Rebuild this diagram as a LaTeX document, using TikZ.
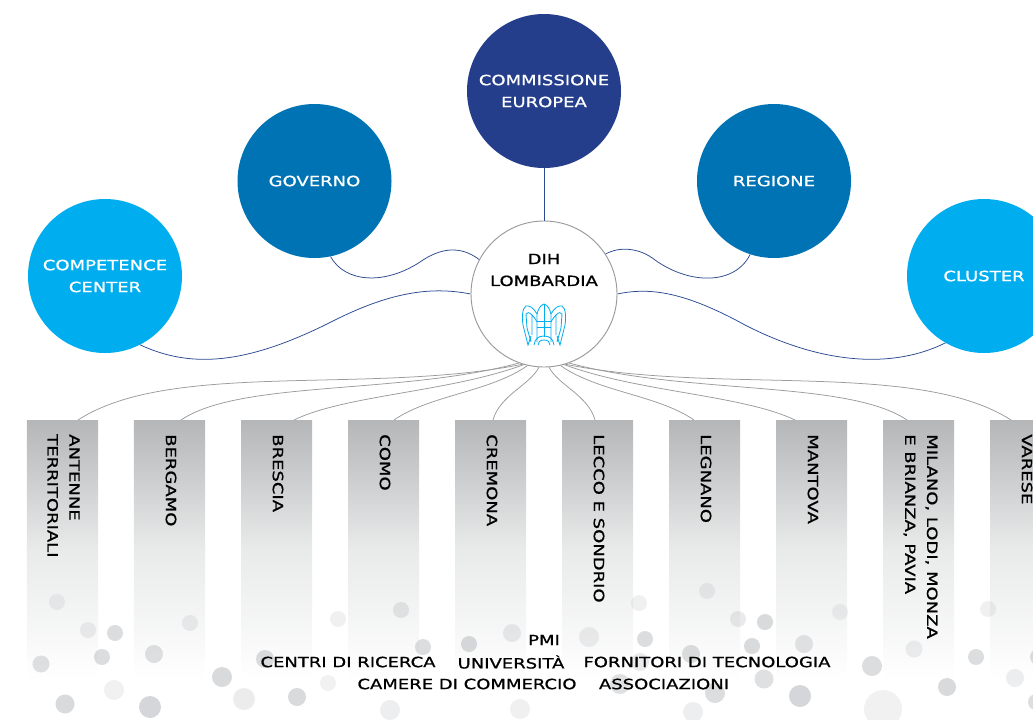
\documentclass[tikz,border=0pt]{standalone}
\usepackage{fontspec}
\setmainfont[FakeStretch=1.28,FakeBold=0.9]{DejaVu Sans}
\definecolor{cedark}{HTML}{243E8B}
\definecolor{cemid}{HTML}{0073B4}
\definecolor{celight}{HTML}{00AEEF}
\definecolor{linkblue}{HTML}{2B4A90}
\definecolor{linkgrey}{HTML}{9A9B9D}
\definecolor{bargrey}{HTML}{B5B6B8}
\definecolor{barmid}{HTML}{E9EAEA}
\definecolor{dotgrey}{HTML}{B9BBBF}
\tikzset{
	labeltext/.style={font=\fontsize{12}{18.7}\selectfont,align=center,inner sep=0},
	bigcircle/.style={circle,minimum size=4.62cm,inner sep=0,labeltext,text=white},
	barbox/.style={minimum width=2.13cm,minimum height=7.8cm,inner sep=0,anchor=north,
		top color=bargrey,bottom color=white,middle color=barmid},
	bartext/.style={labeltext,rotate=-90,anchor=west,align=left,text=black},
	bluelink/.style={draw=linkblue,line width=0.65pt},
	greylink/.style={draw=linkgrey,line width=0.65pt},
	dot/.style={fill=dotgrey,fill opacity=#1}
}
\begin{document}
\begin{tikzpicture}[x=0.03cm,y=-0.03cm]
	\useasboundingbox (0,0) rectangle (1033,719);
	\clip (0,0) rectangle (1033,719);
	% Bars
	\foreach \barname/\barx in {antenne/62.5,bergamo/169.5,brescia/276.5,como/383.5,cremona/490.5,
		lecco/597.5,legnano/704.5,mantova/811.5,milano/918.5,varese/1025.5}
		\node[barbox] (\barname) at (\barx,420) {};
	% Bubbles
	\foreach \bx/\by/\br/\bo in {57/602/8/.22,88/630/8/.25,115/633/8/.5,102/657/8/.5,41/664/8.5/.45,
		154/654/9/.45,190/623/8/.25,114/690/10/.2,65/704/9.5/.55,150/707/11/.6,222/677/10/.55,
		244/699/11/.28,297/697/9/.55,328/683/8/.2,265/659/9/.5,338/619/8/.22,401/610/8/.35,
		423/647/8/.5,469/644/8/.55,390/710/10/.25,512/633/9/.3,520/709/10/.22,589/637/10/.25,
		639/603/8/.22,645/639/8/.5,707/591/8/.25,738/619/8/.3,765/622/8/.55,752/646/8/.55,
		691/654/9/.5,640/662/9/.3,804/644/9/.4,840/612/8/.22,764/679/9.5/.45,715/693/10/.5,
		800/696/11/.6,620/684/10/.45,693/712/10/.25,872/666/10/.5,883/709/19/.2,914/649/8.5/.25,
		947/687/9/.55,976/657/8/.5,988/609/8/.22,1015/678/9/.25,1038/657/8/.5,1036/702/8/.5}
		\fill[dot=\bo] (\bx,\by) circle[radius=\br];
	% Circles
	\node[bigcircle,fill=cedark] (commissione) at (544,91) {COMMISSIONE\\EUROPEA};
	\node[bigcircle,fill=cemid] (governo) at (314.5,181) {GOVERNO};
	\node[bigcircle,fill=cemid] (regione) at (774,181) {REGIONE};
	\node[bigcircle,fill=celight] (competence) at (105,276) {COMPETENCE\\CENTER};
	\node[bigcircle,fill=celight] (cluster) at (984,276) {CLUSTER};
	\node[circle,draw=linkgrey,line width=0.8pt,fill=white,minimum size=4.38cm,inner sep=0] (dih) at (544,294) {};
	\node[labeltext] (dihtext) at (544,270) {DIH\\LOMBARDIA};
	% Blue links
	\draw[bluelink] (commissione) -- (dih);
	\draw[bluelink] (governo.-78) .. controls (345,283) and (385,285) .. (420,262)
		.. controls (440,248) and (460,245) .. (dih.152);
	\draw[bluelink] (regione.-108) .. controls (735,285) and (690,285) .. (655,260)
		.. controls (640,248) and (620,246) .. (dih.33);
	\draw[bluelink] (competence.-63) .. controls (190,368) and (245,366) .. (335,320)
		.. controls (395,290) and (435,287) .. (dih.180);
	\draw[bluelink] (cluster.-120) .. controls (895,368) and (825,366) .. (745,325)
		.. controls (685,292) and (650,287) .. (dih.0);
	% Grey links
	\draw[greylink] ([xshift=0.465cm]antenne.north) .. controls (170,360) and (370,395) .. (dih.-107);
	\draw[greylink] ([xshift=0.345cm]bergamo.north) .. controls (240,380) and (400,395) .. (dih.-110);
	\draw[greylink] ([xshift=0.525cm]brescia.north) .. controls (345,395) and (450,392) .. (dih.-106);
	\draw[greylink] ([xshift=0.315cm]como.north) .. controls (430,395) and (490,392) .. (dih.-103);
	\draw[greylink] ([xshift=0.075cm]cremona.north) .. controls (500,395) and (530,385) .. (dih.-94);
	\draw[greylink] ([xshift=-0.075cm]lecco.north) .. controls (588,395) and (558,385) .. (dih.-86);
	\draw[greylink] ([xshift=-0.315cm]legnano.north) .. controls (658,395) and (598,392) .. (dih.-77);
	\draw[greylink] ([xshift=-0.495cm]mantova.north) .. controls (743,395) and (638,392) .. (dih.-74);
	\draw[greylink] ([xshift=-0.345cm]milano.north) .. controls (848,380) and (688,395) .. (dih.-70);
	\draw[greylink] ([xshift=-0.435cm]varese.north) .. controls (918,360) and (718,395) .. (dih.-73);
	% Logo
	\foreach \side in {1,-1}{
		\begin{scope}[shift={(544,0)},xscale=\side,draw=celight,line width=0.7pt]
			\draw (0,304) .. controls (4,305) and (6,310) .. (7,314) -- (7,342);
			\draw (0,304) -- (0,337);
			\draw (7,314) .. controls (10,308) and (15,305) .. (18,306)
				.. controls (22,308) and (22,318) .. (21,325) -- (16,345) -- (13,336);
			\draw (12,315) .. controls (15,312) and (17,312) .. (18,314) -- (17,328) -- (13,342);
			\draw (7,322) .. controls (9,318) and (11,316) .. (12,315) -- (12,335);
			\draw (0,321) -- (7,321) (0,327) -- (7,327);
			\draw (0,336) .. controls (6,336) and (9,339) .. (10,345);
			\draw (0,340) .. controls (4,340) and (6,342) .. (6,345);
		\end{scope}
	}
	% Bar texts
	\node[bartext] (antennetext) at (63.5,434) {ANTENNE\\TERRITORIALI};
	\node[bartext] (bergamotext) at (171,434) {BERGAMO};
	\node[bartext] (bresciatext) at (278,434) {BRESCIA};
	\node[bartext] (comotext) at (385,434) {COMO};
	\node[bartext] (cremonatext) at (492,434) {CREMONA};
	\node[bartext] (leccotext) at (599,434) {LECCO E SONDRIO};
	\node[bartext] (legnanotext) at (706,434) {LEGNANO};
	\node[bartext] (mantovatext) at (813,434) {MANTOVA};
	\node[bartext] (milanotext) at (920.5,434) {MILANO, LODI, MONZA\\E BRIANZA, PAVIA};
	\node[bartext] (varesetext) at (1027,434) {VARESE};
	% Bottom texts
	\node[labeltext] (pmi) at (544,640) {PMI};
	\node[labeltext] (centri) at (348,662) {CENTRI DI RICERCA};
	\node[labeltext] (universita) at (511,662) {UNIVERSITÀ};
	\node[labeltext] (fornitori) at (707,662) {FORNITORI DI TECNOLOGIA};
	\node[labeltext] (camere) at (467,684) {CAMERE DI COMMERCIO};
	\node[labeltext] (associazioni) at (664,684) {ASSOCIAZIONI};
\end{tikzpicture}
\end{document}
